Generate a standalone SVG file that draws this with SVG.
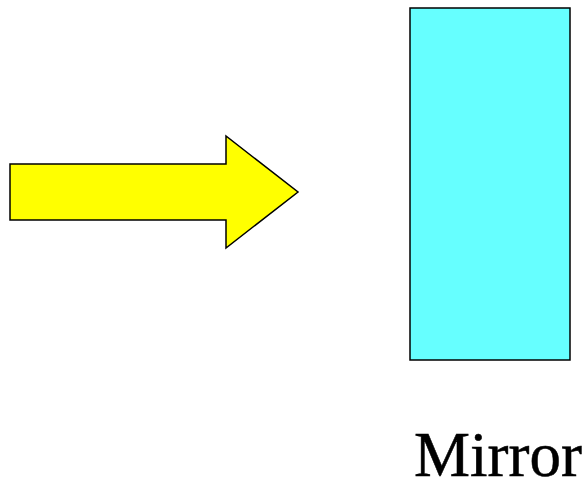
<svg xmlns="http://www.w3.org/2000/svg" width="585" height="483" viewBox="0 0 585 483">
<style>
.shape{stroke:#000;stroke-width:1.5;stroke-linejoin:miter}
.label{font-family:"Liberation Serif","Times New Roman",serif;font-size:63px;fill:#000;stroke:#000;stroke-width:0.5}
</style>
<rect width="585" height="483" fill="#fff"/>
<g id="arrow">
<polygon class="shape" fill="#ffff00" points="10,164 226,164 226,136 298,192 226,248 226,220 10,220"/>
</g>
<g id="mirror">
<rect class="shape" fill="#66ffff" x="410" y="8" width="160" height="352"/>
<text class="label" x="414" y="476">Mirror</text>
</g>
<g id="connectors"></g>
</svg>
